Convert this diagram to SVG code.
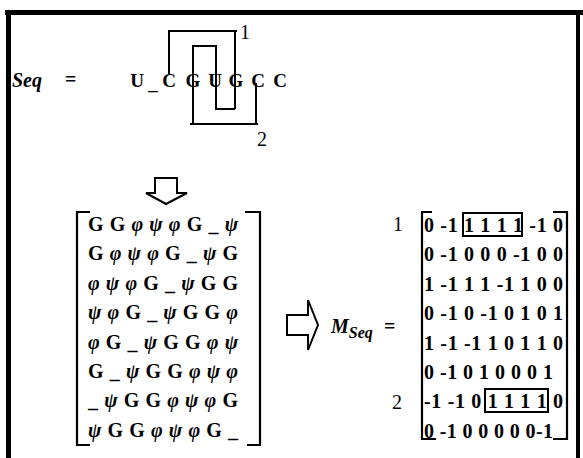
<svg xmlns="http://www.w3.org/2000/svg" width="583" height="458" viewBox="0 0 583 458">
<style>
.t{font-family:"Liberation Serif","Times New Roman",serif;font-weight:bold;font-size:20px;fill:#000}
.s{text-anchor:middle;font-size:19px}
.it{font-style:italic}
.n{font-family:"Liberation Serif","Times New Roman",serif;font-size:20px;fill:#000}
.ln{stroke:#000;stroke-width:2;fill:none}
.br{stroke:#000;stroke-width:2.2;fill:none}
.ar{stroke:#000;stroke-width:2;fill:#fff;stroke-linejoin:miter}
</style>
<rect width="583" height="458" fill="#fff"/>
<g id="frame">
<rect x="5" y="10" width="578" height="5" fill="#000"/>
<rect x="6" y="10" width="5" height="448" fill="#000"/>
<rect x="576" y="10" width="4" height="448" fill="#000"/>
</g>
<g id="seq">
<text class="t it" x="12" y="87" font-size="26">Seq</text>
<text class="t" x="65" y="86" font-size="22">=</text>
<text class="t s" x="137" y="87">U</text>
<text class="t s" x="153" y="90">_</text>
<text class="t s" x="169" y="87">C</text>
<text class="t s" x="193" y="87">G</text>
<text class="t s" x="215" y="87">U</text>
<text class="t s" x="236" y="87">G</text>
<text class="t s" x="258" y="87">C</text>
<text class="t s" x="280" y="87">C</text>
</g>
<g id="connectors">
<polyline class="ln" points="169,74 169,31 237,31"/>
<line class="ln" x1="235" y1="31" x2="235" y2="109"/>
<polyline class="ln" points="193,124 193,46 216,46 216,109 235,109"/>
<polyline class="ln" points="190,124 258,124"/>
<line class="ln" x1="256" y1="83" x2="256" y2="124"/>
</g>
<g id="label1"><text class="n" x="240" y="39">1</text></g>
<g id="label2"><text class="n" x="257" y="146">2</text></g>
<g id="down-arrow">
<polygon class="ar" points="155,178 177,178 177,193 187,193 166,204 146,193 155,193"/>
</g>
<g id="left-matrix">
<polyline class="br" points="90,212 77,212 77,445 90,445"/>
<polyline class="br" points="245,212 260,212 260,445 247,445"/>
<text class="t" x="88" y="231" textLength="150" lengthAdjust="spacing">G G <tspan class="it">φ ψ φ</tspan> G _ <tspan class="it">ψ</tspan></text>
<text class="t" x="88" y="260" textLength="150" lengthAdjust="spacing">G <tspan class="it">φ ψ φ</tspan> G _ <tspan class="it">ψ</tspan> G</text>
<text class="t" x="88" y="290" textLength="150" lengthAdjust="spacing"><tspan class="it">φ ψ φ</tspan> G _ <tspan class="it">ψ</tspan> G G</text>
<text class="t" x="88" y="319" textLength="150" lengthAdjust="spacing"><tspan class="it">ψ φ</tspan> G _ <tspan class="it">ψ</tspan> G G <tspan class="it">φ</tspan></text>
<text class="t" x="88" y="349" textLength="150" lengthAdjust="spacing"><tspan class="it">φ</tspan> G _ <tspan class="it">ψ</tspan> G G <tspan class="it">φ ψ</tspan></text>
<text class="t" x="88" y="378" textLength="150" lengthAdjust="spacing">G _ <tspan class="it">ψ</tspan> G G <tspan class="it">φ ψ φ</tspan></text>
<text class="t" x="88" y="407" textLength="150" lengthAdjust="spacing">_ <tspan class="it">ψ</tspan> G G <tspan class="it">φ ψ φ</tspan> G</text>
<text class="t" x="88" y="437" textLength="150" lengthAdjust="spacing"><tspan class="it">ψ</tspan> G G <tspan class="it">φ ψ φ</tspan> G _</text>
</g>
<g id="right-arrow">
<polygon class="ar" points="287,315 308,315 308,300 318,325 308,350 308,335 287,335"/>
</g>
<g id="mseq">
<text class="t it" x="331" y="333" font-size="24">M<tspan font-size="16" dy="5">Seq</tspan></text>
<text class="t" x="384" y="333" font-size="24">=</text>
</g>
<g id="right-matrix">
<text class="n" x="393" y="231">1</text>
<text class="n" x="392" y="409">2</text>
<polyline class="br" points="432,212 422,212 422,439 436,439"/>
<polyline class="br" points="553,212 567,212 567,439 553,439"/>
<text class="t" x="424" y="232" textLength="139" lengthAdjust="spacing">0 -1 1 1 1 1 -1 0</text>
<text class="t" x="424" y="261" textLength="139" lengthAdjust="spacing">0 -1 0 0 0 -1 0 0</text>
<text class="t" x="424" y="291" textLength="139" lengthAdjust="spacing">1 -1 1 1 -1 1 0 0</text>
<text class="t" x="424" y="320" textLength="139" lengthAdjust="spacing">0 -1 0 -1 0 1 0 1</text>
<text class="t" x="424" y="350" textLength="139" lengthAdjust="spacing">1 -1 -1 1 0 1 1 0</text>
<text class="t" x="424" y="379" textLength="129" lengthAdjust="spacing">0 -1 0 1 0 0 0 1</text>
<text class="t" x="424" y="408" textLength="139" lengthAdjust="spacing">-1 -1 0 1 1 1 1 0</text>
<text class="t" x="424" y="438" textLength="129" lengthAdjust="spacing">0 -1 0 0 0 0 0-1</text>
<rect class="ln" x="463" y="213" width="59" height="23"/>
<rect class="ln" x="485" y="389" width="63" height="23"/>
</g>
</svg>
